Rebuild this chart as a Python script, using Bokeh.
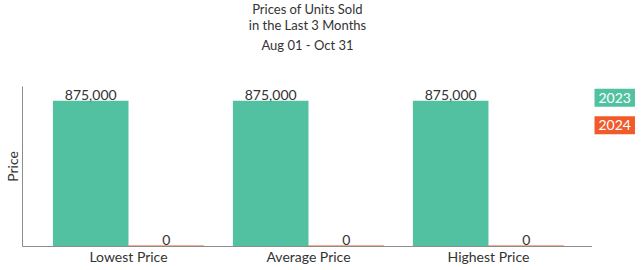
from bokeh.plotting import figure
from bokeh.layouts import row
from bokeh.models import Range1d, Title, FixedTicker, ColumnDataSource
from bokeh.core.properties import value
from bokeh.embed import file_html
from bokeh.resources import INLINE

categories = ["Lowest Price", "Average Price", "Highest Price"]
series_names = ["2023", "2024"]
values_2023 = [875000, 875000, 875000]
values_2024 = [0, 0, 0]
title_lines = ["Prices of Units Sold", "in the Last 3 Months"]
subtitle = "Aug 01 - Oct 31"
y_label = "Price"

GREEN = "#52c1a1"
ORANGE = "#f15a2b"
FONT = "Lato"
TXT = "#333333"

idx = list(range(len(categories)))
y_max = 960000

p = figure(frame_width=570, frame_height=160, output_backend="svg", toolbar_location=None,
           x_range=Range1d(-0.589, 2.578), y_range=Range1d(0, y_max),
           min_border_left=0, min_border_right=0, min_border_top=0, min_border_bottom=0)
p.outline_line_color = None
p.grid.grid_line_color = None

def add_title(text, standoff):
    p.add_layout(Title(text=text, align="center", text_font=FONT,
                       text_font_size="13px", text_font_style="normal", text_color=TXT,
                       standoff=standoff), "above")

# subtitle keeps two empty lines beneath it as spacing above the plot frame
add_title(subtitle + "\n\n", 4)
add_title(title_lines[1], -1)
add_title(title_lines[0], -3)

src = ColumnDataSource(dict(
    x23=[i - 0.21 for i in idx],
    x24=[i + 0.21 for i in idx],
    v23=values_2023,
    v24=values_2024,
    t23=[f"{v:,.0f}" for v in values_2023],
    t24=[f"{v:,.0f}" for v in values_2024],
))

p.vbar(x="x23", top="v23", bottom=0, width=0.42, source=src, fill_color=GREEN, line_color=None)
p.vbar(x="x24", top="v24", bottom=0, width=0.42, source=src, fill_color=ORANGE,
       line_color=ORANGE, line_width=2)

p.text(x="x23", y="v23", text="t23", source=src, text_align="center", text_baseline="bottom",
       y_offset=-1, text_font=value(FONT), text_font_size="14px", text_color=TXT)
p.text(x="x24", y="v24", text="t24", source=src, text_align="center", text_baseline="bottom",
       y_offset=-2, text_font=value(FONT), text_font_size="14px", text_color=TXT)

xa = p.xaxis[0]
xa.ticker = FixedTicker(ticks=idx)
xa.major_label_overrides = {i: c for i, c in zip(idx, categories)}
xa.major_tick_line_color = None
xa.minor_tick_line_color = None
xa.major_tick_out = 0
xa.axis_line_color = "#8c8c8c"
xa.major_label_text_font = FONT
xa.major_label_text_font_size = "14px"
xa.major_label_text_color = TXT
xa.major_label_standoff = 1

ya = p.yaxis[0]
ya.ticker = FixedTicker(ticks=[])
ya.axis_label = y_label
ya.axis_label_text_font = FONT
ya.axis_label_text_font_size = "14px"
ya.axis_label_text_font_style = "normal"
ya.axis_label_text_color = TXT
ya.axis_label_standoff = 2
ya.major_label_standoff = 0
ya.major_tick_out = 0
ya.major_tick_line_color = None
ya.minor_tick_line_color = None
ya.axis_line_color = "#8c8c8c"

# legend panel to the right of the plot (its frame is aligned with the main frame)
leg_w = 50
leg = figure(width=leg_w, height=270, output_backend="svg", toolbar_location=None,
             x_range=Range1d(0, leg_w), y_range=Range1d(160, 0),
             min_border=0, x_axis_location=None, y_axis_location=None)
leg.outline_line_color = None
leg.grid.grid_line_color = None
leg_src = ColumnDataSource(dict(
    x=[2, 2], y=[11, 38], name=series_names, col=[GREEN, ORANGE],
))
leg.text(x="x", y="y", text="name", source=leg_src, text_align="left", text_baseline="middle",
         text_font=value(FONT), text_font_size="14px", text_color="white",
         background_fill_color="col", padding=4)

layout = row(p, leg)
open("out.html", "w").write(file_html(layout, INLINE))
